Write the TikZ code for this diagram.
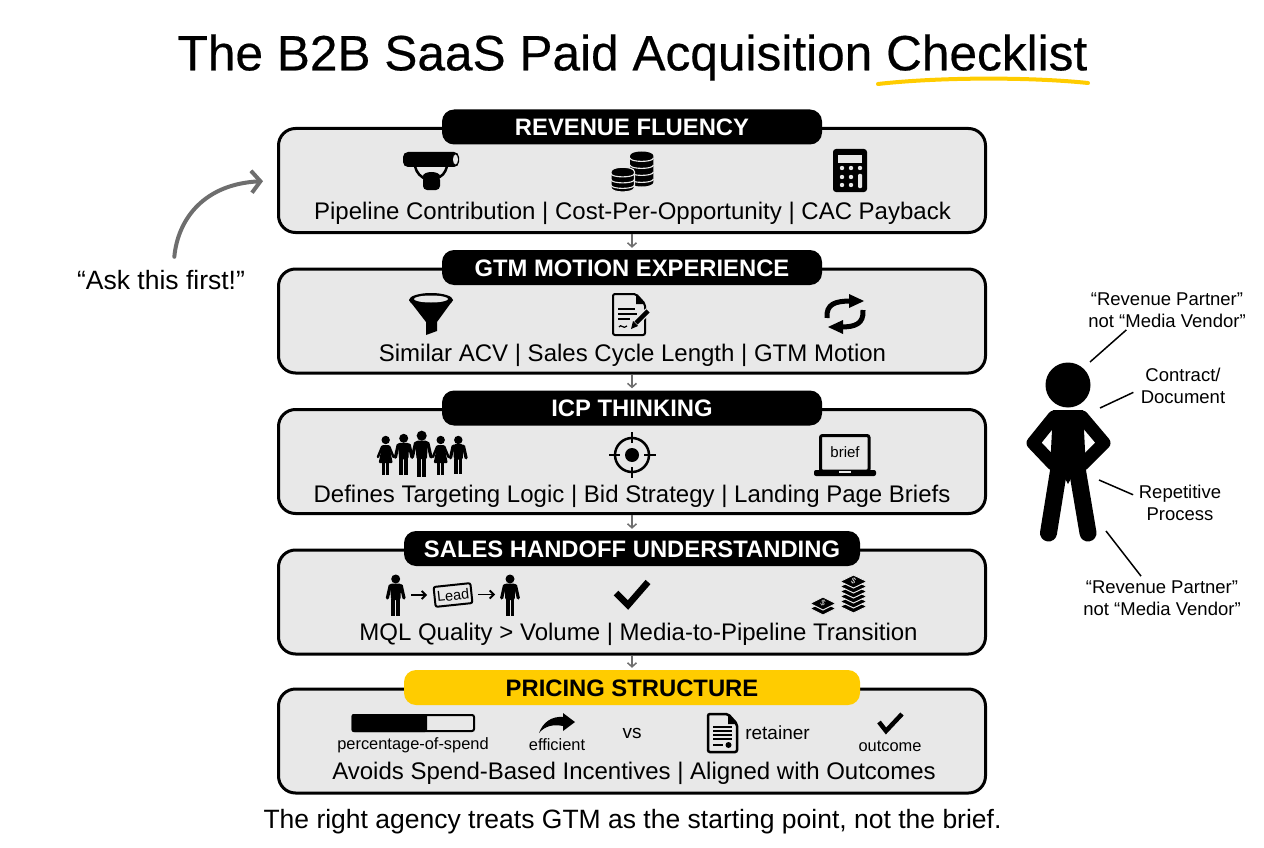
\documentclass[tikz,border=0pt]{standalone}
\usepackage{fontspec}
\setmainfont{Liberation Sans}
\newfontfamily\titlefont[FakeBold=0.4]{Liberation Sans}
\usetikzlibrary{arrows.meta,positioning}
\definecolor{panelgray}{HTML}{E8E8E8}
\definecolor{pricegold}{HTML}{FFCC00}
\definecolor{arrowgray}{HTML}{6E6E6E}
\newcommand{\fs}[1]{\fontsize{#1}{#1}\selectfont}
\begin{document}
\begin{tikzpicture}[node distance = 140.5pt, x=1pt, y=-1pt,
panel/.style={draw=black, line width=3pt, fill=panelgray, rounded corners=17pt, minimum width=707pt, minimum height=104pt},
header/.style={fill=black, text=white, rounded corners=12pt, minimum width=380pt, minimum height=35pt, text height=17pt, text depth=0pt, font=\fs{23.8}\bfseries},
wide/.style={minimum width=456pt},
line/.style={font=\fs{24}},
small/.style={font=\fs{16.4}},
mid/.style={font=\fs{19}},
note/.style={font=\fs{18.5}, align=center, inner sep=0pt},
flow/.style={draw=arrowgray, line width=1.5pt, -{Straight Barb[length=4pt,width=9pt]}, shorten >=2pt},
leader/.style={draw=black, line width=1.5pt},
hand/.style={line width=1.8pt, -{Straight Barb[length=4pt,width=8pt]}},
man/.pic={
\fill (0,0) circle (4.5);
\fill [rounded corners=2pt] (-5.5,4.5) -- (5.5,4.5) -- (4.7,21) -- (-4.7,21) -- cycle;
\draw [line width=3.2pt, line cap=round] (-5.5,6.5) -- (-8.3,19) (5.5,6.5) -- (8.3,19);
\draw [line width=3.8pt] (-2.4,20) -- (-2.4,36.5) (2.4,20) -- (2.4,36.5);
},
woman/.pic={
\fill (0,0) circle (4.2);
\fill [rounded corners=1pt] (-3.5,5) -- (3.5,5) -- (7,23) -- (-7,23) -- cycle;
\draw [line width=2.4pt, line cap=round] (-3.5,6.5) -- (-7.8,17) (3.5,6.5) -- (7.8,17);
\draw [line width=3pt] (-1.9,22) -- (-1.9,34.5) (1.9,22) -- (1.9,34.5);
}]
\useasboundingbox (0,0) rectangle (1264,848);

% title
\node (title) at (632.5,57.5) {\fs{49.6}\titlefont The B2B SaaS Paid Acquisition Checklist};
\draw [color=pricegold, line width=4pt, line cap=round] (878,84) .. controls (940,77) and (1030,77) .. (1088,83);

% panels
\node (1) [panel] at (632,180.5) {};
\node (2) [panel, below of=1] {};
\node (3) [panel, below of=2] {};
\node (4) [panel, below of=3] {};
\node (5) [panel, below of=4, node distance=139pt] {};

\node (h1) [header] at (1.north) {REVENUE FLUENCY};
\node (h2) [header] at (2.north) {GTM MOTION EXPERIENCE};
\node (h3) [header] at (3.north) {ICP THINKING};
\node (h4) [header, wide] at (4.north) {SALES HANDOFF UNDERSTANDING};
\node (h5) [header, wide, fill=pricegold, text=black] at (5.north) {PRICING STRUCTURE};

\path [flow] (1) edge (h2);
\path [flow] (2) edge (h3);
\path [flow] (3) edge (h4);
\path [flow] (4) edge (h5);

\node (t1) [line] at (632.5,213) {Pipeline Contribution | Cost-Per-Opportunity | CAC Payback};
\node (t2) [line] at (632.5,355) {Similar ACV | Sales Cycle Length | GTM Motion};
\node (t3) [line] at (632,496) {Defines Targeting Logic | Bid Strategy | Landing Page Briefs};
\node (t4) [line] at (638.5,634) {MQL Quality > Volume | Media-to-Pipeline Transition};
\node (t5) [line] at (634,773) {Avoids Spend-Based Incentives | Aligned with Outcomes};

% pipe
\fill [rounded corners=5pt] (403,152) rectangle (459,167);
\fill [panelgray] (455.5,159.5) ellipse [x radius=2.5, y radius=5];
\draw [line width=2.5pt] (415,166) .. controls (417,174) and (420,176) .. (427,180) (447,166) .. controls (445,174) and (442,176) .. (436,179);
\fill [rounded corners=4pt] (423,176) rectangle (440,190);
\fill (431.5,176) ellipse [x radius=8.5, y radius=4];

% coins
\fill (630,156) .. controls (630,150) and (653.4,150) .. (653.4,156) -- (653.4,182) .. controls (653.4,188) and (630,188) .. (630,182) -- cycle;
\foreach \y in {158,165,172,179}
  \draw [color=panelgray, line width=1.1pt] (630,\y) .. controls (630,\y+4.5) and (653.4,\y+4.5) .. (653.4,\y);
\filldraw [draw=panelgray, line width=1.2pt] (611,171.7) .. controls (611,165.7) and (634.4,165.7) .. (634.4,171.7) -- (634.4,187.5) .. controls (634.4,193.5) and (611,193.5) .. (611,187.5) -- cycle;
\foreach \y in {173.5,179.5,185}
  \draw [color=panelgray, line width=1.1pt] (611,\y) .. controls (611,\y+4.5) and (634.4,\y+4.5) .. (634.4,\y);

% calculator
\fill [rounded corners=3pt] (833,149) rectangle (867,192);
\fill [panelgray] (838,155) rectangle (862,163);
\foreach \x in {842,851}
  \foreach \y in {168,177,185}
    \fill [panelgray] (\x,\y) circle (2.2);
\fill [panelgray] (860,168) circle (2.2);
\fill [panelgray, rounded corners=1pt] (858,174) rectangle (862,188);

% funnel
\fill (409,300) -- (426,322) -- (426,335) -- (437,331) -- (437,322) -- (453,300) -- cycle;
\fill (431,300) ellipse [x radius=22, y radius=7];
\fill [panelgray] (431,299) ellipse [x radius=17, y radius=3.5];

% document and pen
\draw [line width=2pt, rounded corners=2pt, fill=panelgray] (613,294) -- (636,294) -- (645,304) -- (645,335) -- (613,335) -- cycle;
\fill (636,294) -- (645,304) -- (636,304) -- cycle;
\foreach \y/\e in {309/635,314/637,319/630}
  \draw [line width=1.5pt] (618,\y) -- (\e,\y);
\draw [line width=1.2pt] (619,327) .. controls (621,323) and (623,330) .. (627,326);
\draw [line width=7pt, color=panelgray] (633,326) -- (648,311);
\draw [line width=4.5pt] (636,323) -- (648,311);
\fill (631,329) -- (633,321) -- (638,326) -- cycle;

% refresh
\draw [line width=5pt] (827,318) .. controls (826,304) and (835,301) .. (851,301);
\fill (849,294) -- (864,301) -- (849,308) -- cycle;
\draw [line width=5pt] (863,310) .. controls (864,324) and (855,327) .. (841,327);
\fill (843,320) -- (828,327) -- (843,334) -- cycle;

% people
\pic at (385.7,440) {woman};
\pic at (403.7,438.3) {man};
\pic [scale=1.12] at (421.7,435.7) {man};
\pic at (440.7,440) {woman};
\pic [scale=.94] at (458.3,440) {man};

% target
\draw [line width=2.5pt] (632,455) circle (17);
\fill (632,455) circle (7);
\draw [line width=2.5pt] (609,455) -- (620,455) (644,455) -- (655.5,455) (632,432) -- (632,443) (632,467) -- (632,478);

% laptop
\draw [line width=3pt, fill=panelgray, rounded corners=2pt] (820.5,435.5) rectangle (869,471);
\node (brief) at (845,452) {\fs{15}brief};
\fill [rounded corners=2pt] (814,470) rectangle (876,476);
\fill [panelgray] (839,471) rectangle (851,473);

% handoff
\pic at (395.7,579) {man};
\pic at (510,579) {man};
\node (lead) [draw=black, line width=2pt, rounded corners=2pt, rotate=6, minimum width=37pt, minimum height=20pt, inner sep=0pt] at (453,595) {\fs{14.5}Lead};
\draw [hand] (411,595) -- (427,595);
\draw [hand] (478,594.5) -- (495,594.5);

% check
\draw [line width=6.5pt] (616,593) -- (628,605) -- (648,582);

% money stacks
\foreach \y in {606.5,601.5,596.5,591.5,586.5,581.5}
  \filldraw [draw=panelgray, line width=1pt] (840,\y) -- (853.5,\y-6.5) -- (867,\y) -- (853.5,\y+6.5) -- cycle;
\foreach \y in {608.5,603.5}
  \filldraw [draw=panelgray, line width=1pt] (810,\y) -- (823,\y-6.5) -- (836,\y) -- (823,\y+6.5) -- cycle;
\node (m1) [text=panelgray, rotate=-25, inner sep=0pt] at (853.5,581.5) {\fs{8}\$};
\node (m2) [text=panelgray, rotate=-25, inner sep=0pt] at (823,603.5) {\fs{8}\$};

% pricing row
\draw [line width=2pt, fill=panelgray, rounded corners=2pt] (352.5,715) rectangle (474,731);
\fill [rounded corners=2pt] (351.5,714) -- (427,714) -- (427,732) -- (351.5,732) -- cycle;
\node (s1) [small] at (413,745) {percentage-of-spend};
\fill (539,733) .. controls (543,722) and (552,716) .. (563,717) -- (563,713) -- (575,722) -- (563,731) -- (563,726) .. controls (553,724) and (545,726) .. (539,733) -- cycle;
\node (s2) [small] at (557,745) {efficient};
\node (vs) [mid] at (632,733) {vs};
\draw [line width=2.5pt, rounded corners=2pt] (708,714) -- (728,714) -- (737,724) -- (737,752) -- (708,752) -- cycle;
\fill (728,714) -- (737,724) -- (728,724) -- cycle;
\foreach \y in {727,731,735,739}
  \draw [line width=1.5pt] (713,\y) -- (732,\y);
\draw [line width=1.5pt] (713,745) -- (723,745);
\fill (728.5,745) circle (3);
\node (ret) [mid] at (777.5,733) {retainer};
\draw [line width=4.5pt] (879,722) -- (886,731) -- (902,714);
\node (s3) [small] at (890,746) {outcome};

% caption
\node (cap) at (632.5,822) {\fs{26.5}The right agency treats GTM as the starting point, not the brief.};

% ask
\node (ask) at (161,280) {\fs{26.5}“Ask this first!”};
\draw [draw=arrowgray, line width=4pt, line cap=round, shorten <=10pt, shorten >=14pt, -{Straight Barb[length=9pt,width=22pt]}] (ask.47) .. controls (178,218) and (205,184) .. (1.west);

% figure
\fill (1068,385) circle (22.5);
\fill (1053,410) -- (1083,410) -- (1086,470) -- (1050,470) -- cycle;
\draw [line width=13pt, line cap=round, line join=round] (1054,417) -- (1033,443) -- (1053,464);
\draw [line width=13pt, line cap=round, line join=round] (1082,417) -- (1104,443) -- (1083,464);
\draw [line width=17pt, line cap=round] (1059,468) -- (1048.5,533);
\draw [line width=17pt, line cap=round] (1077,468) -- (1088,533);
\fill (1056,462) -- (1080,462) -- (1068,484) -- cycle;

\node (l1) [note] at (1167,310) {“Revenue Partner”\\[4pt]not “Media Vendor”};
\node (l2) [note] at (1183,386) {Contract/\\[4pt]Document};
\node (l3) [note] at (1180,503) {Repetitive\\[4pt]Process};
\node (l4) [note] at (1162,598) {“Revenue Partner”\\[4pt]not “Media Vendor”};

\coordinate (c1) at (1090,362);
\coordinate (c2) at (1100,408);
\coordinate (c3) at (1099,480);
\coordinate (c4) at (1106,531);

\path [leader, shorten <=3pt] (l1.205) edge (c1);
\path [leader, shorten <=8pt] (l2.184) edge (c2);
\path [leader, shorten <=6pt] (l3.172) edge (c3);
\path [leader, shorten <=5pt] (l4.135) edge (c4);

\end{tikzpicture}
\end{document}
